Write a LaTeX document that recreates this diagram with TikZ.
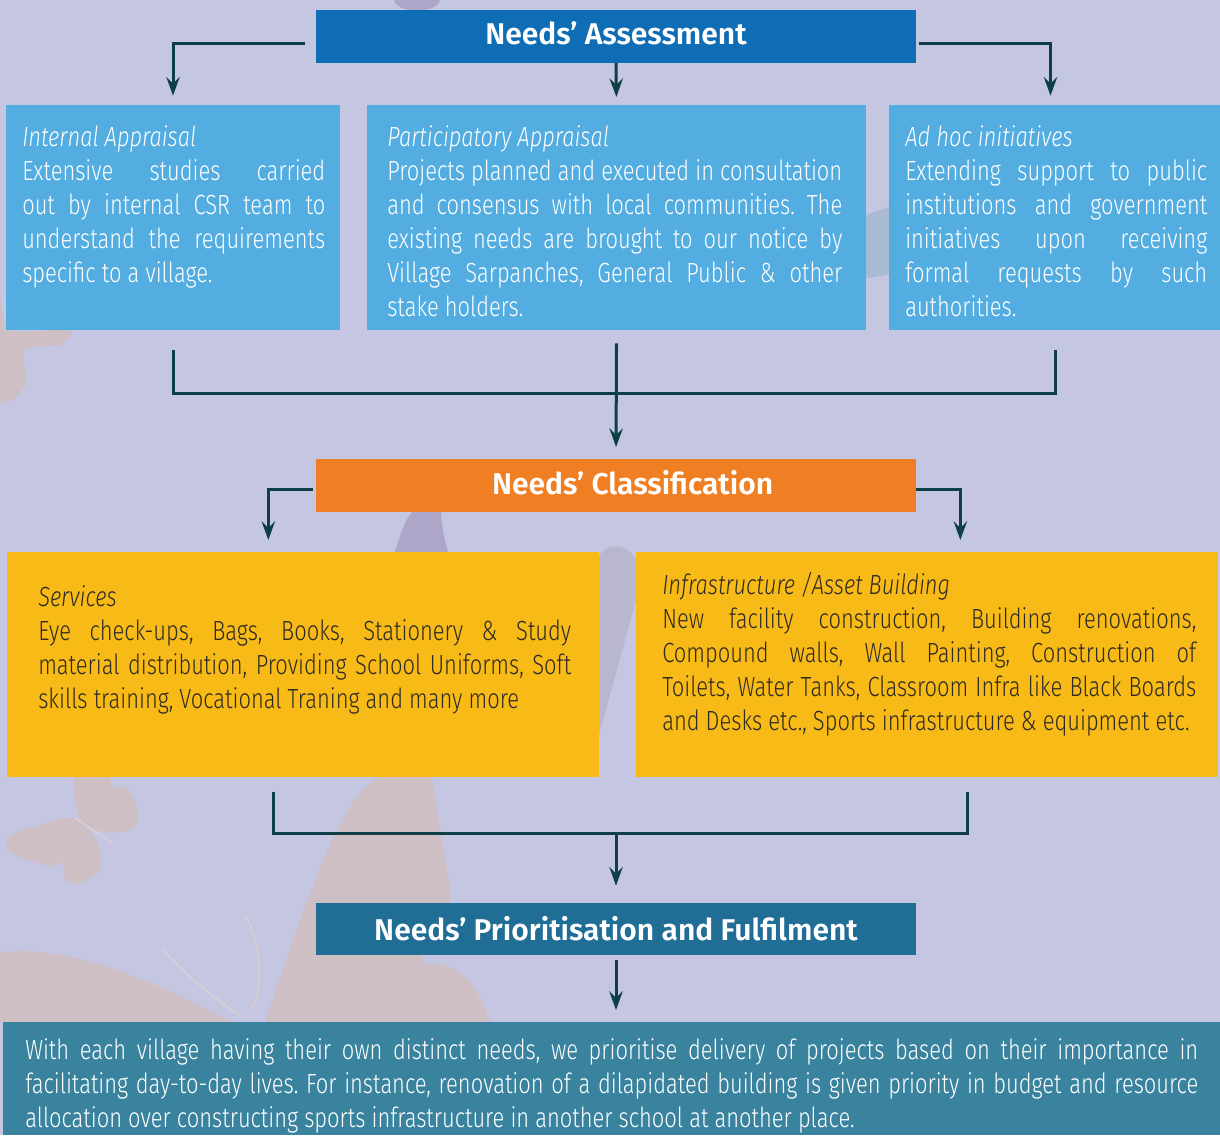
\documentclass[tikz,border=0pt]{standalone}
\usepackage{fontspec}
\setmainfont{Fira Sans}[UprightFont=* Light, ItalicFont=* Light Italic, FakeStretch=0.79]
\newfontfamily\headfont{Fira Sans}[UprightFont=* SemiBold]
\usetikzlibrary{positioning,calc,arrows.meta}

\definecolor{bgc}{HTML}{C5C6E2}
\definecolor{wingbeige}{HTML}{CDBFC4}
\definecolor{wingpurple}{HTML}{ADA6C8}
\definecolor{blobgrey}{HTML}{B9B6D0}
\definecolor{bluegrey}{HTML}{A9BAD3}
\definecolor{antennac}{HTML}{D6CDD6}
\definecolor{assessblue}{HTML}{0F6DB5}
\definecolor{skyblue}{HTML}{53ADE0}
\definecolor{classorange}{HTML}{EF7F22}
\definecolor{needyellow}{HTML}{F8BA17}
\definecolor{prioblue}{HTML}{206E96}
\definecolor{noteteal}{HTML}{3A839F}
\definecolor{linkc}{HTML}{0E3F46}
\definecolor{darktext}{HTML}{2E2B24}

\newcommand\bodyfont{\fontsize{20.8}{25.5}\selectfont}
\setlength\parindent{0pt}
\hyphenpenalty=10000
\exhyphenpenalty=10000
\frenchspacing

\begin{document}
\begin{tikzpicture}[x=0.75pt, y=-0.75pt,
	box/.style={anchor=north west, inner sep=0pt, outer sep=0pt},
	head/.style={box, text=white, font=\headfont\fontsize{22.5}{27}\selectfont,
		minimum width=450pt, minimum height=39.75pt},
	txt/.style={anchor=north west, inner sep=0pt, align=justify, font=\bodyfont},
	link/.style={draw=linkc, line width=2.25pt},
	flow/.style={link, -{Stealth[length=14pt, width=10pt, inset=5pt]}}]

	% page and faint butterflies behind the chart
	\fill[bgc] (0,0) rectangle (1220,1135);
	\useasboundingbox (0,0) rectangle (1220,1135);
	\fill[wingbeige] (0,952) .. controls (80,945) and (160,985) .. (232,1022) -- (0,1022) -- cycle;
	\fill[wingbeige] (265,1022) .. controls (300,920) and (340,790) .. (381,777) -- (432,777)
		.. controls (440,830) and (448,870) .. (451,900) .. controls (430,920) and (415,950) .. (425,965)
		.. controls (450,960) and (475,975) .. (490,1022) -- cycle;
	\draw[antennac, line width=1.5pt] (163,950) .. controls (195,985) and (225,1005) .. (239,1015);
	\draw[antennac, line width=1.5pt] (245,915) .. controls (262,945) and (262,985) .. (253,1008);
	\fill[wingbeige] plot[smooth cycle] coordinates {(75,777) (108,777) (112,788) (125,787) (136,805) (134,828) (104,832) (80,818)};
	\fill[wingbeige] plot[smooth cycle] coordinates {(75,818) (40,825) (10,836) (10,852) (48,866) (62,862) (66,880) (80,883) (100,868) (96,840)};
	\draw[antennac, line width=1.5pt] (75,818) -- (112,843);
	\fill[wingbeige] plot[smooth cycle] coordinates {(0,300) (10,330) (70,330) (60,345) (25,350) (25,385) (0,400)};
	\fill[wingpurple] (417,0) ellipse [x radius=17pt, y radius=8pt];
	\fill[wingpurple] (395,552) .. controls (400,535) and (405,520) .. (412,512) -- (441,512)
		.. controls (442,530) and (446,545) .. (448,552) -- cycle;
	\fill[blobgrey] (599,735) -- (599,557) .. controls (604,543) and (628,542) .. (636,560) -- (636,600) -- cycle;
	\fill[bluegrey] (866,215) .. controls (875,212) and (882,209) .. (889,207) -- (889,274)
		.. controls (880,276) and (872,278) .. (866,278) -- cycle;

	% stage headers
	\node[head, fill=assessblue, text depth=4.5pt] (assess) at (316,10) {Needs’ Assessment};
	\node[head, fill=classorange, text depth=4.5pt] (classif) at (316,459) {\hspace*{25pt}Needs’ Classification};
	\node[head, fill=prioblue, minimum height=39pt] (prior) at (316,903) {Needs’ Prioritisation and Fulfilment};

	% assessment routes
	\begin{scope}[every node/.style={box, fill=skyblue, minimum height=168.75pt}]
		\node[minimum width=250.5pt] (intapp) at (6,105) {};
		\node[minimum width=374.25pt] (partapp) at (367,105) {};
		\node[minimum width=248.25pt] (adhoc) at (889,105) {};
	\end{scope}
	\node[txt, text=white, text width=227.25pt] (intapp-t) at (22,125)
		{\textit{Internal Appraisal}\\ Extensive studies carried\linebreak out by internal CSR team to\linebreak
		understand the requirements\linebreak specific to a village.};
	\node[txt, text=white, text width=341.25pt] (partapp-t) at (387,125)
		{\textit{Participatory Appraisal}\\ Projects planned and executed in consultation\linebreak
		and consensus with local communities. The\linebreak existing needs are brought to our notice by\linebreak
		Village Sarpanches, General Public \& other\linebreak stake holders.};
	\node[txt, text=white, text width=226.5pt] (adhoc-t) at (905,125)
		{\textit{Ad hoc initiatives}\\ Extending support to public\linebreak institutions and government\linebreak
		initiatives upon receiving\linebreak formal requests by such\linebreak authorities.};

	% classes of needs
	\begin{scope}[every node/.style={box, fill=needyellow, minimum height=168.75pt}]
		\node[minimum width=444pt] (svc) at (7,552) {};
		\node[minimum width=436.5pt] (infra) at (636,552) {};
	\end{scope}
	\node[txt, text=darktext, text width=399.75pt] (svc-t) at (38,585)
		{\textit{Services}\\ Eye check-ups, Bags, Books, Stationery \& Study\linebreak
		material distribution, Providing School Uniforms, Soft\linebreak
		skills training, Vocational Traning and many more};
	\node[txt, text=darktext, text width=400.5pt] (infra-t) at (662,572)
		{\textit{Infrastructure /Asset Building}\\ New facility construction, Building renovations,\linebreak
		Compound walls, Wall Painting, Construction of\linebreak
		Toilets, Water Tanks, Classroom Infra like Black Boards\linebreak
		and Desks etc., Sports infrastructure \& equipment etc.};

	% closing note
	\node[box, fill=noteteal, minimum width=912.75pt, minimum height=84.75pt] (note) at (3,1022) {};
	\node[txt, text=white, text width=879.75pt] (note-t) at (25,1038)
		{With each village having their own distinct needs, we prioritise delivery of projects based on their importance in\linebreak
		facilitating day-to-day lives. For instance, renovation of a dilapidated building is given priority in budget and resource\linebreak
		allocation over constructing sports infrastructure in another school at another place.};

	% connectors
	\draw[flow, shorten <=8pt, shorten >=7pt] ([yshift=-5pt]assess.west) -| (intapp.north);
	\draw[flow, shorten >=6pt] (assess.south) -- (partapp.north);
	\draw[flow, shorten <=2pt, shorten >=7pt] ([yshift=-5pt]assess.east) -| ([xshift=-3pt]adhoc.north);
	\draw[link] ([yshift=-15pt]intapp.south) -- ++(0,43) -| ([xshift=1pt,yshift=-15pt]adhoc.south);
	\draw[flow, shorten >=9pt] ([yshift=-10pt]partapp.south) -- (classif.north);

	\draw[flow, shorten <=2pt, shorten >=9pt] ([yshift=-3pt]classif.west) -| ([xshift=-26pt]svc.north);
	\draw[flow, shorten >=9pt] ([yshift=-3pt]classif.east) -| ([xshift=25pt]infra.north);
	\draw[link] ([xshift=-22.5pt,yshift=-11pt]svc.south) -- ++(0,42) coordinate (bar) -| ([xshift=30pt,yshift=-11pt]infra.south);
	\draw[flow, shorten >=13pt] (bar -| prior.north) -- (prior.north);

	\draw[flow, shorten <=4pt, shorten >=9pt] (prior.south) -- (prior.south |- note.north);
\end{tikzpicture}
\end{document}
